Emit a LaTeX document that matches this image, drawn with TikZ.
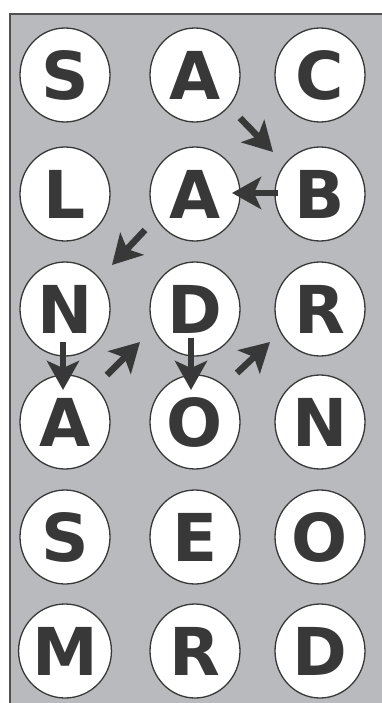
\documentclass[tikz,border=0pt]{standalone}
\usepackage{fontspec}
\setmainfont{DejaVu Sans}
\usetikzlibrary{shapes.geometric,arrows.meta,calc}
\definecolor{bggray}{HTML}{B9BABE}
\definecolor{framegray}{HTML}{505050}
\definecolor{ink}{HTML}{383838}
\tikzset{
  letter/.style={ellipse, draw=ink, line width=1.3pt, fill=white,
    minimum width=90pt, minimum height=94pt, inner sep=0pt,
    text=ink, font=\fontsize{66}{66}\selectfont\bfseries},
  arr/.style={draw=ink, line width=6.5pt,
    -{Stealth[length=29pt,width=32pt,inset=7pt]}}
}
\begin{document}
\begin{tikzpicture}[x=1pt,y=1pt]
\useasboundingbox (0,0) rectangle (382,-703);
\clip (0,0) rectangle (382,-703);
\draw[fill=bggray, draw=framegray, line width=2pt] (10,-14) rectangle (420,-740);
% row 1
\node[letter] (S11) at (65,-75) {S};
\node[letter] (A12) at (195,-75) {A};
\node[letter] (C13) at (320,-75) {C};
% row 2
\node[letter] (L21) at (65,-194) {L};
\node[letter] (A22) at (195,-194) {A};
\node[letter] (B23) at (320,-194) {B};
% row 3
\node[letter] (N31) at (65,-309) {N};
\node[letter] (D32) at (195,-309) {D};
\node[letter] (R33) at (320,-309) {R};
% row 4
\node[letter] (A41) at (65,-422) {A};
\node[letter] (O42) at (195,-422) {O};
\node[letter] (N43) at (320,-422) {N};
% row 5
\node[letter] (S51) at (65,-537) {S};
\node[letter] (E52) at (195,-537) {E};
\node[letter] (O53) at (320,-537) {O};
% row 6
\node[letter] (M61) at (65,-651) {M};
\node[letter] (R62) at (195,-651) {R};
\node[letter] (D63) at (320,-651) {D};
% arrows
\draw[arr] ($(A12)!.5!(B23)+(-17.5,16.5)$) -- ($(A12)!.5!(B23)+(15.5,-17.5)$);
\draw[arr] ($(B23)!.5!(A22)+(20.5,1)$) -- ($(B23)!.5!(A22)+(-25.5,1)$);
\draw[arr] ($(A22)!.5!(N31)+(15,21.5)$) -- ($(A22)!.5!(N31)+(-18,-13.5)$);
\draw[arr] ($(N31)!.5!(A41)+(-2,23.5)$) -- ($(N31)!.5!(A41)+(-2,-24.5)$);
\draw[arr] ($(A41)!.5!(D32)+(-23,-9.5)$) -- ($(A41)!.5!(D32)+(10,23.5)$);
\draw[arr] ($(D32)!.5!(O42)+(-4,27.5)$) -- ($(D32)!.5!(O42)+(-4,-24.5)$);
\draw[arr] ($(O42)!.5!(R33)+(-20.5,-7.5)$) -- ($(O42)!.5!(R33)+(12.5,23.5)$);
\end{tikzpicture}
\end{document}
